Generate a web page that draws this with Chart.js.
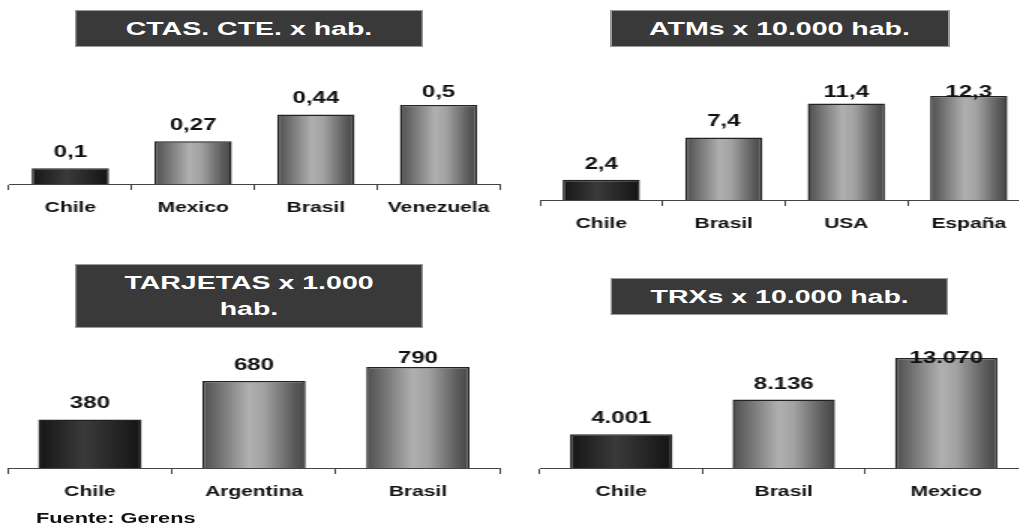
<!DOCTYPE html>
<html>
<head>
<meta charset="utf-8">
<script src="https://cdn.jsdelivr.net/npm/chart.js@4"></script>
<style>
    html, body { margin: 0; padding: 0; background: #fff; overflow: hidden; }
    body { width: 1019px; height: 526px; }
    /* the original picture is stretched sideways, so the whole stage is drawn narrow and widened */
    #stage {
        position: absolute; left: 0; top: 0;
        width: 680px; height: 526px;
        transform: scaleX(1.5); transform-origin: 0 0;
        font-family: "Liberation Sans", Arial, sans-serif;
    }
    .panel { position: absolute; }
    .title {
        position: absolute;
        background: #393939;
        border: 1px solid #9a9a9a;
        box-sizing: border-box;
        color: #fff;
        font-weight: bold;
        font-size: 19px;
        line-height: 26px;
        display: flex; align-items: center; justify-content: center;
        text-align: center;
    }
    .source {
        position: absolute; left: 24px; top: 509px;
        font-weight: bold; font-size: 14.5px; line-height: 18px; color: #111;
    }
</style>
</head>
<body>
<div id="stage">
    <div class="panel" style="left:0;top:0;width:340px;height:250px"><canvas id="ctas-chart" width="340" height="250"></canvas></div>
    <div class="panel" style="left:340px;top:0;width:347px;height:250px"><canvas id="atm-chart" width="347" height="250"></canvas></div>
    <div class="panel" style="left:0;top:250px;width:340px;height:276px"><canvas id="tarj-chart" width="340" height="276"></canvas></div>
    <div class="panel" style="left:340px;top:250px;width:345px;height:276px"><canvas id="trx-chart" width="345" height="276"></canvas></div>

    <div class="title" style="left:50px;top:10px;width:232px;height:37px">CTAS. CTE. x hab.</div>
    <div class="title" style="left:406.7px;top:10px;width:226px;height:37px">ATMs x 10.000 hab.</div>
    <div class="title" style="left:50px;top:264px;width:232px;height:64px">TARJETAS x 1.000<br>hab.</div>
    <div class="title" style="left:407.3px;top:278px;width:225px;height:37px">TRXs x 10.000 hab.</div>

    <div class="source">Fuente: Gerens</div>
</div>

<script>
// Data
const ctasLabels = ['Chile', 'Mexico', 'Brasil', 'Venezuela'];
const ctasValues = [0.1, 0.27, 0.44, 0.5];

const atmLabels = ['Chile', 'Brasil', 'USA', 'España'];
const atmValues = [2.4, 7.4, 11.4, 12.3];

const tarjLabels = ['Chile', 'Argentina', 'Brasil'];
const tarjValues = [380, 680, 790];

const trxLabels = ['Chile', 'Brasil', 'Mexico'];
const trxValues = [4001, 8136, 13070];

Chart.defaults.font.family = '"Liberation Sans", Arial, sans-serif';
Chart.defaults.color = '#111';

const BAR_PCT = 0.63;

// Spanish style numbers: 0,27 and 13.070
function fmt(v) {
    const parts = String(v).split('.');
    const intPart = parts[0].replace(/\B(?=(\d{3})+(?!\d))/g, '.');
    return parts[1] ? intPart + ',' + parts[1] : intPart;
}

// Cylinder-like horizontal gradient; first bar is the dark one
function barFill(ctx) {
    const chart = ctx.chart;
    const xScale = chart.scales.x;
    const first = ctx.dataIndex === 0;
    if (!xScale || !chart.chartArea || ctx.dataIndex === undefined) {
        return first ? '#2a2a2a' : '#888';
    }
    const w = (xScale.width / chart.data.labels.length) * BAR_PCT;
    const cx = xScale.getPixelForValue(ctx.dataIndex);
    const g = chart.ctx.createLinearGradient(cx - w / 2, 0, cx + w / 2, 0);
    if (first) {
        g.addColorStop(0, '#161616');
        g.addColorStop(0.45, '#3a3a3a');
        g.addColorStop(1, '#141414');
    } else {
        g.addColorStop(0, '#4e4e4e');
        g.addColorStop(0.15, '#6e6e6e');
        g.addColorStop(0.45, '#b0b0b0');
        g.addColorStop(0.6, '#a2a2a2');
        g.addColorStop(0.88, '#5c5c5c');
        g.addColorStop(1, '#464646');
    }
    return g;
}

// Value labels above the bars, pushed down when too close to the top
const valueLabels = {
    id: 'valueLabels',
    afterDatasetsDraw(chart, args, opts) {
        const ctx = chart.ctx;
        const meta = chart.getDatasetMeta(0);
        const values = chart.data.datasets[0].data;
        ctx.save();
        ctx.font = 'bold 16px "Liberation Sans", Arial, sans-serif';
        ctx.fillStyle = '#111';
        ctx.textAlign = 'center';
        ctx.textBaseline = 'alphabetic';
        meta.data.forEach((bar, i) => {
            const y = Math.max(bar.y - 11, opts.minY);
            ctx.fillText(fmt(values[i]), bar.x, y);
        });
        ctx.restore();
    }
};

function makeChart(id, labels, values, yMax, padding, minY) {
    const ctx = document.getElementById(id).getContext('2d');
    return new Chart(ctx, {
        type: 'bar',
        data: {
            labels: labels,
            datasets: [{
                data: values,
                backgroundColor: barFill,
                borderColor: '#222',
                borderWidth: 1.5,
                barPercentage: BAR_PCT,
                categoryPercentage: 1
            }]
        },
        options: {
            responsive: false,
            animation: false,
            layout: { padding: padding },
            scales: {
                x: {
                    grid: {
                        display: true,
                        drawOnChartArea: false,
                        drawTicks: true,
                        tickLength: 6,
                        color: '#444',
                        offset: true
                    },
                    border: { display: true, color: '#444', width: 1 },
                    ticks: {
                        padding: 10,
                        color: '#111',
                        font: { size: 14, weight: 'bold' }
                    },
                    afterFit: (scale) => { scale.height = 40; }
                },
                y: {
                    display: false,
                    min: 0,
                    max: yMax
                }
            },
            plugins: {
                legend: { display: false },
                tooltip: { enabled: false },
                valueLabels: { minY: minY }
            }
        },
        plugins: [valueLabels]
    });
}

makeChart('ctas-chart', ctasLabels, ctasValues, 0.6, { left: 6, right: 6.7, top: 89.2, bottom: 26 }, 97);
makeChart('atm-chart', atmLabels, atmValues, 14, { left: 20, right: 0.3, top: 81.6, bottom: 10 }, 97);
makeChart('tarj-chart', tarjLabels, tarjValues, 900, { left: 5.3, right: 6.7, top: 103, bottom: 18 }, 113);
makeChart('trx-chart', trxLabels, trxValues, 15000, { left: 20, right: 0, top: 91.8, bottom: 18 }, 113);
</script>
</body>
</html>
